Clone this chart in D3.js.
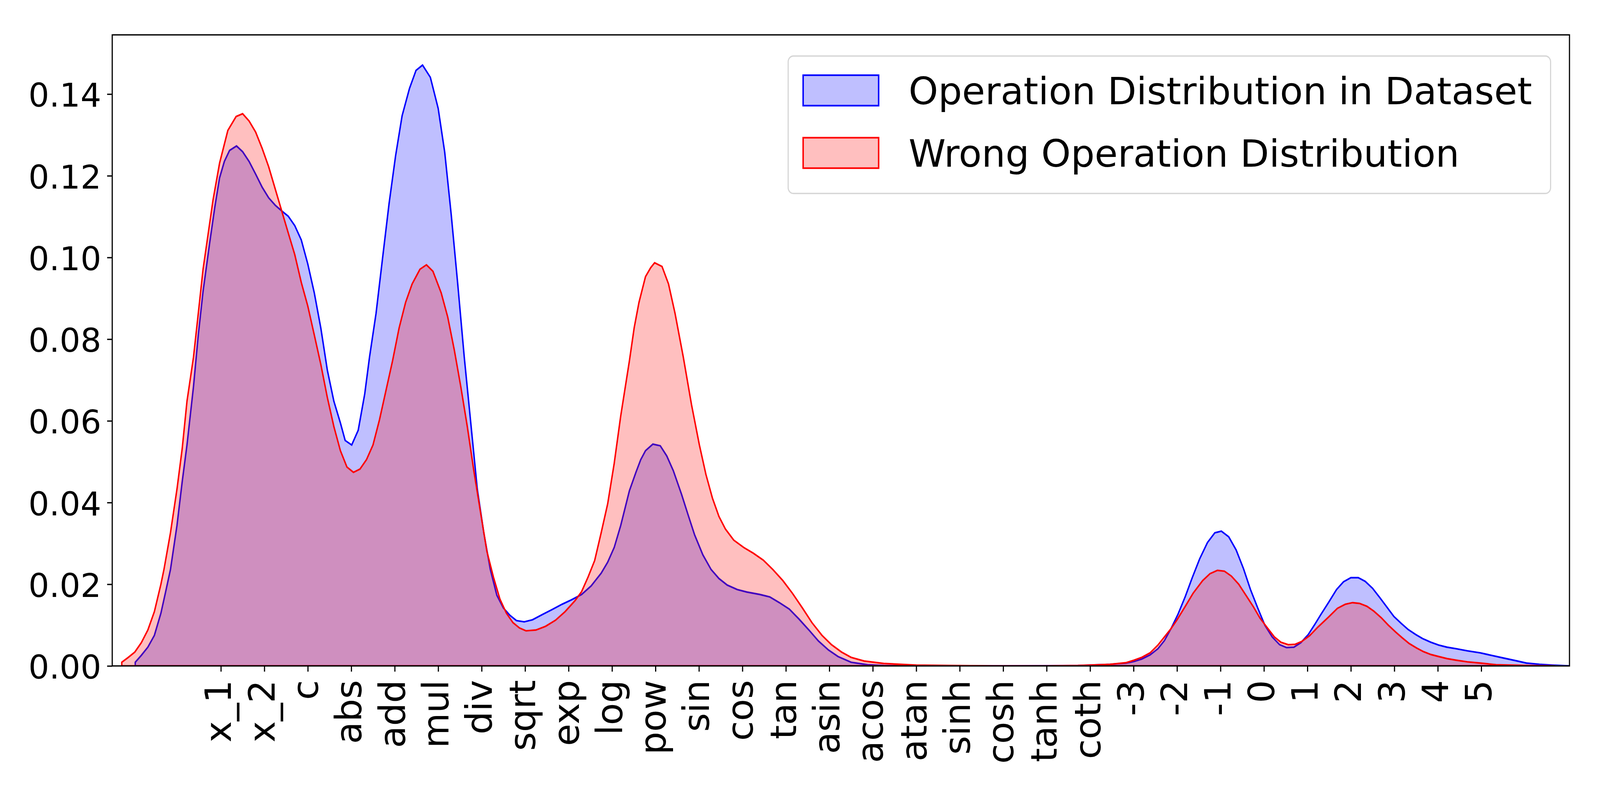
<!DOCTYPE html>
<html>
<head>
<meta charset="utf-8">
<script src="https://cdn.jsdelivr.net/npm/d3@7"></script>
<style>
  html, body { margin: 0; padding: 0; background: #ffffff; overflow: hidden; width: 100%; height: 100%; }
  svg { display: block; font-family: "DejaVu Sans", sans-serif; }
</style>
</head>
<body>
<svg id="chart"></svg>
<script>
// ---------------- data ----------------
const categories = ["x_1","x_2","c","abs","add","mul","div","sqrt","exp","log","pow","sin","cos","tan","asin","acos","atan","sinh","cosh","tanh","coth","-3","-2","-1","0","1","2","3","4","5"];

const yTicks = [0.00, 0.02, 0.04, 0.06, 0.08, 0.10, 0.12, 0.14];

const seriesNames = ["Operation Distribution in Dataset", "Wrong Operation Distribution"];

// positions are in category-index units (x_1 = 0, x_2 = 1, ...)
const datasetPos = [-1.97,-1.83,-1.68,-1.53,-1.38,-1.27,-1.16,-1.01,-0.89,-0.78,-0.63,-0.52,-0.41,-0.26,-0.14,-0.03,0.08,0.20,0.36,0.50,0.65,0.80,0.95,1.10,1.25,1.40,1.55,1.70,1.85,2.00,2.15,2.30,2.45,2.60,2.75,2.86,3.01,3.16,3.31,3.42,3.57,3.72,3.87,4.02,4.17,4.34,4.49,4.64,4.82,5.00,5.15,5.30,5.45,5.60,5.75,5.90,6.05,6.20,6.35,6.50,6.65,6.80,6.98,7.17,7.40,7.62,7.85,8.07,8.30,8.52,8.75,8.90,9.05,9.20,9.40,9.55,9.66,9.77,9.94,10.11,10.26,10.41,10.60,10.75,10.90,11.09,11.28,11.46,11.65,11.88,12.10,12.40,12.63,12.85,13.08,13.30,13.53,13.75,13.98,14.20,14.50,14.88,15.25,16.5,18.0,19.0,19.72,20.46,20.83,21.01,21.19,21.38,21.56,21.71,21.86,22.02,22.19,22.35,22.52,22.70,22.87,23.02,23.19,23.36,23.53,23.69,23.86,24.02,24.19,24.36,24.52,24.69,24.85,25.02,25.16,25.31,25.49,25.67,25.83,26.00,26.17,26.33,26.50,26.66,26.85,26.99,27.16,27.32,27.49,27.65,27.84,28.02,28.21,28.43,28.68,28.98,29.23,29.53,29.79,30.04,30.34,30.63,31.03];
const datasetDensity = [0.0009,0.0026,0.0046,0.0075,0.0129,0.0182,0.0236,0.0344,0.0451,0.0541,0.0684,0.0810,0.0917,0.1034,0.1123,0.1195,0.1235,0.1262,0.1273,0.1259,0.1235,0.1204,0.1172,0.1146,0.1128,0.1114,0.1101,0.1078,0.1043,0.0984,0.0913,0.0827,0.0724,0.0648,0.0595,0.0552,0.0541,0.0577,0.0666,0.0756,0.0863,0.0998,0.1132,0.1249,0.1347,0.1414,0.1458,0.1471,0.1441,0.1365,0.1258,0.1105,0.0935,0.0756,0.0595,0.0433,0.0326,0.0236,0.0173,0.0142,0.0124,0.0111,0.0108,0.0113,0.0126,0.0138,0.0151,0.0162,0.0175,0.0196,0.0227,0.0254,0.0290,0.0344,0.0429,0.0474,0.0505,0.0527,0.0543,0.0539,0.0514,0.0478,0.0420,0.0370,0.0321,0.0272,0.0236,0.0214,0.0198,0.0187,0.0181,0.0175,0.0169,0.0155,0.0139,0.0115,0.0088,0.0061,0.0039,0.0023,0.0009,0.0003,0.0001,0.0000,0.0000,0.00005,0.0001,0.0004,0.0007,0.0011,0.0017,0.0027,0.0042,0.0062,0.0091,0.0126,0.0170,0.0216,0.0262,0.0302,0.0326,0.0330,0.0316,0.0284,0.0238,0.0187,0.0141,0.0100,0.0071,0.0052,0.0045,0.0046,0.0057,0.0077,0.0100,0.0126,0.0156,0.0187,0.0206,0.0216,0.0216,0.0207,0.0190,0.0168,0.0141,0.0121,0.0104,0.0089,0.0077,0.0067,0.0058,0.0051,0.0046,0.0042,0.0037,0.0032,0.0026,0.0019,0.0013,0.0007,0.0004,0.0002,0.0000];

const wrongPos = [-2.28,-2.13,-1.98,-1.83,-1.68,-1.53,-1.38,-1.31,-1.16,-1.01,-0.89,-0.78,-0.63,-0.52,-0.41,-0.29,-0.18,-0.03,0.16,0.35,0.50,0.65,0.80,0.95,1.10,1.25,1.40,1.55,1.70,1.85,2.00,2.15,2.30,2.45,2.60,2.75,2.90,3.05,3.20,3.35,3.50,3.65,3.80,3.95,4.10,4.25,4.40,4.58,4.73,4.88,5.07,5.22,5.37,5.52,5.67,5.82,5.97,6.12,6.27,6.42,6.57,6.72,6.87,7.02,7.25,7.47,7.70,7.92,8.15,8.30,8.45,8.60,8.75,8.90,9.05,9.20,9.40,9.51,9.62,9.77,9.89,9.98,10.15,10.30,10.45,10.64,10.83,11.01,11.16,11.31,11.46,11.61,11.80,12.03,12.25,12.48,12.70,12.93,13.15,13.38,13.60,13.83,14.05,14.28,14.50,14.80,15.25,16.00,16.75,18.0,19.0,19.72,20.46,20.83,21.01,21.19,21.38,21.56,21.71,21.86,22.00,22.19,22.37,22.59,22.76,22.93,23.09,23.25,23.42,23.58,23.75,23.91,24.08,24.24,24.39,24.56,24.72,24.87,25.05,25.24,25.49,25.69,25.87,26.04,26.20,26.37,26.53,26.70,26.86,27.03,27.18,27.34,27.51,27.67,27.84,28.02,28.21,28.43,28.68,28.98,29.34,29.71,30.08,30.7];
const wrongDensity = [0.0009,0.0021,0.0034,0.0057,0.0088,0.0133,0.0200,0.0236,0.0326,0.0433,0.0532,0.0648,0.0756,0.0863,0.0971,0.1060,0.1141,0.1231,0.1311,0.1345,0.1352,0.1334,0.1307,0.1267,0.1222,0.1168,0.1114,0.1060,0.1007,0.0939,0.0881,0.0810,0.0738,0.0657,0.0586,0.0527,0.0487,0.0474,0.0482,0.0505,0.0541,0.0603,0.0675,0.0747,0.0827,0.0890,0.0935,0.0971,0.0982,0.0966,0.0913,0.0854,0.0774,0.0684,0.0586,0.0478,0.0379,0.0281,0.0218,0.0164,0.0129,0.0106,0.0093,0.0086,0.0088,0.0097,0.0112,0.0133,0.0160,0.0182,0.0218,0.0258,0.0326,0.0397,0.0496,0.0612,0.0747,0.0828,0.0890,0.0953,0.0975,0.0987,0.0978,0.0935,0.0863,0.0756,0.0639,0.0541,0.0469,0.0411,0.0366,0.0335,0.0308,0.0290,0.0276,0.0259,0.0236,0.0209,0.0178,0.0142,0.0106,0.0075,0.0052,0.0034,0.0021,0.0012,0.0006,0.0002,0.0001,0.0000,0.0000,0.0001,0.0004,0.0008,0.0014,0.0021,0.0032,0.0051,0.0071,0.0091,0.0113,0.0146,0.0178,0.0209,0.0226,0.0234,0.0232,0.0220,0.0200,0.0174,0.0146,0.0117,0.0093,0.0071,0.0058,0.0052,0.0053,0.0060,0.0074,0.0095,0.0120,0.0141,0.0151,0.0155,0.0153,0.0146,0.0134,0.0118,0.0100,0.0083,0.0069,0.0055,0.0044,0.0035,0.0028,0.0023,0.0018,0.0014,0.0010,0.0007,0.0003,0.0002,0.0001,0.0000];

const seriesColors = ["#0000ff", "#ff0000"];

// ---------------- layout (design space 4598 x 2067, fitted to the window) ----------------
const DW = 4598, DH = 2067;
const W = window.innerWidth || DW, H = window.innerHeight || DH;
const sx = W / DW, sy = H / DH;
const k = sx / sy;   // keeps glyphs undistorted inside the non-uniformly scaled group

const svg = d3.select("#chart").attr("width", W).attr("height", H);
const root = svg.append("g").attr("transform", `scale(${sx},${sy})`);

const L = 322.5, R = 4510.3, T = 89.3, B = 1705.7;

const x = d3.scaleLinear().domain([-2.5, 31.03]).range([L, R]);
const y = d3.scaleLinear().domain([0, 0.1545]).range([B, T]);

root.append("rect").attr("x", 0).attr("y", 0).attr("width", DW).attr("height", DH).attr("fill", "#ffffff");

svg.append("defs").append("clipPath").attr("id", "plotClip")
  .append("rect").attr("x", L).attr("y", T).attr("width", R - L).attr("height", B - T);

const plot = root.append("g").attr("clip-path", "url(#plotClip)");

const series = [
  { pos: datasetPos, dens: datasetDensity, color: seriesColors[0] },
  { pos: wrongPos, dens: wrongDensity, color: seriesColors[1] }
];

const area = d3.area()
  .x(d => x(d[0]))
  .y0(y(0))
  .y1(d => y(d[1]))
  .curve(d3.curveLinear);

series.forEach(s => {
  const pts = s.pos.map((p, i) => [p, s.dens[i]]);
  plot.append("path")
    .attr("d", area(pts))
    .attr("fill", s.color)
    .attr("fill-opacity", 0.25)
    .attr("stroke", s.color)
    .attr("stroke-width", 4.2)
    .attr("stroke-linejoin", "miter");
});

// ---------------- axes ----------------
const tickLen = 14.6, tickW = 3.33;

// y axis
const yAxis = d3.axisLeft(y).tickValues(yTicks).tickFormat(d3.format(".2f"))
  .tickSize(tickLen).tickPadding(0);
const gy = root.append("g").attr("transform", `translate(${L},0)`).call(yAxis);
gy.select(".domain").remove();
gy.selectAll(".tick line").attr("stroke", "#000").attr("stroke-width", tickW);
gy.selectAll(".tick text")
  .attr("x", -(tickLen + 17))
  .attr("dy", "0.38em")
  .attr("transform", `scale(1,${k})`)
  .attr("fill", "#000")
  .style("font-family", "'DejaVu Sans', sans-serif")
  .style("font-size", "94px")
  .attr("text-anchor", "end");

// x axis
const xAxis = d3.axisBottom(x).tickValues(d3.range(categories.length))
  .tickFormat(i => categories[i]).tickSize(tickLen).tickPadding(0);
const gx = root.append("g").attr("transform", `translate(0,${B})`).call(xAxis);
gx.select(".domain").remove();
gx.selectAll(".tick line").attr("stroke", "#000").attr("stroke-width", tickW);
gx.selectAll(".tick text")
  .attr("y", 0)
  .attr("x", 0)
  .attr("transform", `translate(0,36) scale(1,${k}) rotate(-90)`)
  .attr("dy", "0.276em")
  .attr("text-anchor", "end")
  .attr("fill", "#000")
  .style("font-family", "'DejaVu Sans', sans-serif")
  .style("font-size", "104px");

// frame
root.append("rect")
  .attr("x", L).attr("y", T).attr("width", R - L).attr("height", B - T)
  .attr("fill", "none").attr("stroke", "#000").attr("stroke-width", 3.33);

// ---------------- legend ----------------
const lg = root.append("g");
const lgX = 2265, lgY = 143.5, lgW = 4456 - 2265, lgH = 495.5 - 143.5;
lg.append("rect")
  .attr("x", lgX).attr("y", lgY).attr("width", lgW).attr("height", lgH)
  .attr("rx", 15).attr("ry", 15)
  .attr("fill", "#ffffff").attr("fill-opacity", 0.8)
  .attr("stroke", "#cccccc").attr("stroke-opacity", 0.8).attr("stroke-width", 3.33);

const rowCenters = [231.6, 391.7];
const patchH = 78;
seriesNames.forEach((name, i) => {
  lg.append("rect")
    .attr("x", 2308).attr("y", rowCenters[i] - patchH / 2).attr("width", 217).attr("height", patchH)
    .attr("fill", seriesColors[i]).attr("fill-opacity", 0.25)
    .attr("stroke", seriesColors[i]).attr("stroke-width", 4.2);
  lg.append("g")
    .attr("transform", `translate(2611,${rowCenters[i]}) scale(1,${k})`)
    .append("text")
    .attr("x", 0).attr("y", 0).attr("dy", "0.364em")
    .attr("fill", "#000")
    .style("font-family", "'DejaVu Sans', sans-serif")
    .style("font-size", "108px")
    .text(name);
});
</script>
</body>
</html>
